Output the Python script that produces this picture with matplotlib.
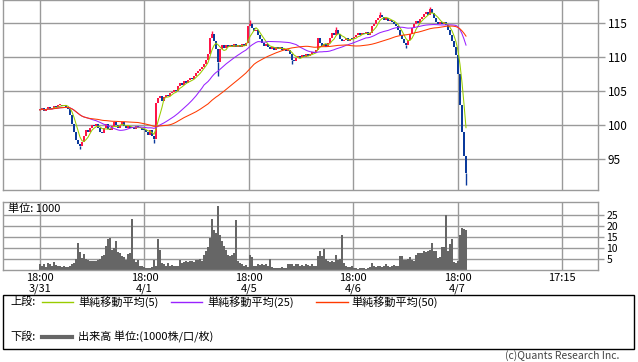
import numpy as np
import pandas as pd
import matplotlib
matplotlib.use('Agg')
import matplotlib.pyplot as plt
from matplotlib.lines import Line2D
from matplotlib.patches import Rectangle

plt.rcParams['font.family'] = ['Noto Sans CJK JP', 'DejaVu Sans']

# closes, one bar per ~30 min
closes_d1 = [102.2, 102.5, 102.0, 102.4, 102.6, 102.3, 102.5, 102.8, 102.6, 102.9,
             103.0, 102.8, 103.0, 102.7, 102.3, 101.5, 100.2, 99.0, 97.8, 97.2,
             96.9, 97.5, 98.4, 99.2, 99.0, 99.6, 100.0, 99.8, 100.2, 99.6,
             99.0, 98.8, 99.5, 100.2, 99.4, 99.2, 99.8, 100.4, 100.0, 99.6,
             100.0, 100.5, 99.9, 99.5, 99.8, 99.6, 99.7, 99.4, 99.9, 99.5,
             99.6, 99.3]
closes_d2 = [99.2, 99.0, 98.6, 99.2, 98.4, 97.9, 103.2, 104.0, 104.3, 103.6,
             104.1, 104.4, 104.2, 104.7, 104.9, 105.2, 105.0, 105.7, 106.2, 105.9,
             106.4, 106.2, 106.6, 106.9, 106.7, 107.2, 107.6, 108.0, 108.3, 108.6,
             109.0, 109.6, 110.4, 112.8, 113.4, 112.3, 111.2, 109.3, 111.2, 111.8,
             111.3, 111.7, 111.4, 111.8, 111.5, 111.9, 111.4, 111.7, 111.5, 111.9,
             111.6, 112.0]
closes_d3 = [114.6, 114.9, 114.2, 113.8, 114.0, 113.3, 112.6, 112.0, 111.6, 111.9,
             111.4, 111.2, 111.5, 111.1, 111.4, 111.2, 111.5, 111.0, 111.2, 110.9,
             111.1, 110.5, 109.6, 109.4, 109.9, 110.2, 109.8, 110.3, 110.0, 110.4,
             110.1, 110.5, 110.8, 110.6, 111.0, 112.8, 112.0, 111.6, 111.9, 111.5,
             112.0, 112.8, 113.6, 113.2, 114.0, 113.4, 112.6, 112.3, 112.5, 112.8,
             112.4, 112.7]
closes_d4 = [112.6, 112.9, 113.2, 113.5, 113.2, 113.6, 113.4, 113.7, 113.3, 113.6,
             114.6, 114.9, 115.4, 115.8, 116.2, 115.9, 115.5, 115.7, 115.3, 115.5,
             115.1, 114.9, 114.5, 113.9, 113.2, 112.6, 112.0, 111.7, 112.5, 113.4,
             114.2, 114.8, 115.3, 115.0, 115.6, 115.9, 116.3, 116.6, 116.2, 117.0,
             116.4, 115.7, 115.2, 114.8, 115.2, 114.8, 115.1, 114.7, 114.0, 113.2,
             112.3, 111.4, 110.3]
closes_d5 = [107.5, 103.0, 99.0, 95.5, 93.0]

volume = [2.5, 2.0, 2.5, 1.5, 3.0, 2.5, 1.8, 3.6, 2.2, 1.6,
          1.8, 1.4, 1.6, 1.2, 1.5, 1.8, 2.6, 3.3, 5.0, 12.3,
          8.0, 5.6, 7.4, 5.0, 4.5, 4.0, 4.0, 4.2, 4.0, 4.5,
          5.0, 6.3, 7.0, 11.0, 13.9, 14.6, 9.3, 10.0, 13.0, 8.0,
          7.5, 6.5, 6.0, 4.5, 7.3, 7.8, 23.0, 5.0, 3.5, 4.5,
          1.6, 1.8, 1.2, 1.0, 0.8, 1.0, 1.2, 4.7, 2.0, 14.3,
          9.0, 3.0, 2.5, 2.0, 3.0, 1.8, 2.2, 1.6, 2.0, 1.8,
          4.7, 3.0, 3.8, 4.0, 3.6, 4.2, 4.0, 3.8, 4.7, 4.5,
          5.0, 4.2, 7.0, 8.5, 10.5, 14.6, 23.0, 18.0, 17.0, 29.3,
          16.0, 13.0, 11.0, 9.3, 6.8, 6.5, 7.0, 7.7, 22.5, 4.0,
          3.0, 2.5, 2.0, 2.2, 1.5, 7.0, 6.0, 1.6, 2.0, 2.5,
          2.2, 2.6, 2.3, 2.5, 2.0, 5.2, 1.5, 1.0, 0.8, 1.0,
          0.7, 1.2, 1.0, 0.9, 2.5, 2.8, 2.6, 2.0, 2.8, 2.5,
          1.8, 2.4, 2.0, 2.6, 2.2, 2.0, 2.5, 1.6, 2.0, 6.3,
          8.8, 6.5, 9.7, 5.0, 4.0, 3.8, 4.2, 3.5, 7.0, 4.7,
          5.0, 15.7, 3.0, 1.8, 1.5, 1.2, 1.6, 0.8, 0.7, 0.6,
          0.8, 0.7, 0.9, 0.6, 0.8, 1.2, 3.3, 2.0, 1.2, 1.6,
          1.8, 1.2, 1.6, 2.5, 1.8, 1.4, 1.6, 2.4, 1.8, 1.6,
          6.3, 6.5, 4.5, 4.7, 5.0, 6.0, 4.5, 4.0, 7.0, 7.7,
          7.8, 7.7, 8.5, 8.3, 8.8, 9.0, 12.3, 8.5, 8.8, 5.3,
          6.0, 10.4, 10.6, 24.8, 8.5, 11.6, 13.9, 3.6, 3.4, 4.0,
          16.0, 19.0, 18.5, 18.0]

# a few visible wicks (bar index, price)
wick_low_idx = [20, 57, 89, 126, 183, 213]
wick_low_val = [96.5, 97.4, 107.2, 108.9, 111.3, 91.2]
wick_high_idx = [86, 105, 148, 170, 195]
wick_high_val = [113.8, 115.4, 114.4, 116.6, 117.4]

day_ticks = [0, 52.2, 104.4, 156.6, 208.8, 261]
tick_labels = ['18:00\n3/31', '18:00\n4/1', '18:00\n4/5', '18:00\n4/6', '18:00\n4/7', '17:15']
price_ticks = [95, 100, 105, 110, 115]
vol_ticks = [5, 10, 15, 20, 25]

UP = '#ff1447'
DOWN = '#0b3a9c'
MA_COLORS = {5: '#99cc00', 25: '#9922ff', 50: '#ff3a00'}
GRID = '#9a9a9a'
W, H = 638, 362


def fx(x):
    return x / W


def fy(y):
    return 1 - y / H


def style_axis(ax, ylim, yticks, labelsize, ticklen):
    ax.set_xlim(-18.5, 279)
    ax.set_ylim(*ylim)
    ax.set_xticks(day_ticks)
    ax.set_yticks(yticks)
    ax.grid(True, color=GRID, linewidth=1.0)
    ax.set_axisbelow(True)
    for sp in ax.spines.values():
        sp.set_color(GRID)
        sp.set_linewidth(1.0)
    ax.yaxis.tick_right()
    ax.tick_params(axis='y', length=ticklen, width=1.0, color=GRID, labelsize=labelsize, pad=2)
    ax.tick_params(axis='x', length=0)


def main():
    closes = pd.Series(closes_d1 + closes_d2 + closes_d3 + closes_d4 + closes_d5)
    opens = closes.shift(1).fillna(closes.iloc[0])
    x = np.arange(len(closes))

    fig = plt.figure(figsize=(W / 100, H / 100), dpi=100)

    # price panel
    ax = fig.add_axes([fx(3), fy(190), fx(595), 190 / H])
    style_axis(ax, (90.44, 118.38), price_ticks, 8.5, 5)
    ax.tick_params(axis='x', labelbottom=False)

    lo = np.minimum(opens, closes)
    hi = np.maximum(opens, closes)
    colors = [UP if c >= o else DOWN for o, c in zip(opens, closes)]
    ax.vlines(wick_low_idx, lo[wick_low_idx], wick_low_val,
              colors=[colors[i] for i in wick_low_idx], linewidth=1.0, zorder=2)
    ax.vlines(wick_high_idx, hi[wick_high_idx], wick_high_val,
              colors=[colors[i] for i in wick_high_idx], linewidth=1.0, zorder=2)
    ax.bar(x, np.maximum(hi - lo, 0.15), bottom=lo, width=0.85, color=colors,
           linewidth=0, zorder=2)

    for n, col in MA_COLORS.items():
        ma = closes.rolling(n, min_periods=1).mean()
        ax.plot(x, ma, color=col, linewidth=0.75, zorder=3)

    # volume panel
    axv = fig.add_axes([fx(3), fy(270), fx(595), 68 / H])
    style_axis(axv, (0, 30.9), vol_ticks, 7.5, 4)
    axv.bar(np.arange(len(volume)), volume, width=1.0, color='#666666', linewidth=0, zorder=2)
    axv.set_xticklabels(tick_labels, fontsize=8, linespacing=1.05)
    axv.tick_params(axis='x', pad=2)
    axv.text(0.008, 0.9, '単位: 1000', transform=axv.transAxes, fontsize=8,
             va='center', ha='left')

    # legend box
    fig.add_artist(Rectangle((fx(3), fy(349)), fx(631), 54 / H, transform=fig.transFigure,
                             fill=False, edgecolor='black', linewidth=1.0))
    fig.text(fx(10), fy(302), '上段:', fontsize=8, va='center')
    for (x0, x1, tx), (n, col) in zip([(42, 73, 78), (171, 202, 207), (316, 348, 351)],
                                      MA_COLORS.items()):
        fig.add_artist(Line2D([fx(x0), fx(x1)], [fy(302), fy(302)], color=col, linewidth=1.0))
        fig.text(fx(tx), fy(302), '単純移動平均(%d)' % n, fontsize=8, va='center')
    fig.text(fx(10), fy(337), '下段:', fontsize=8, va='center')
    fig.add_artist(Line2D([fx(42), fx(72)], [fy(337), fy(337)], color='#666666', linewidth=3.0))
    fig.text(fx(78), fy(337), '出来高 単位:(1000株/口/枚)', fontsize=8, va='center')

    fig.text(fx(619), fy(356), '(c)Quants Research Inc.', fontsize=7.5, ha='right',
             va='center', color='#444444')

    fig.savefig('out.png', dpi=100)


if __name__ == "__main__":
    main()
